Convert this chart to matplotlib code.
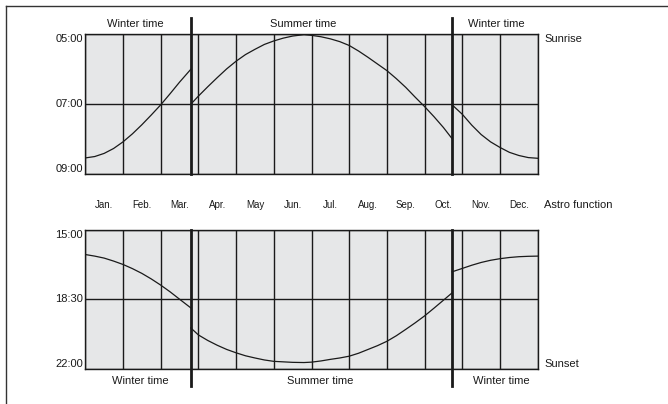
import matplotlib
matplotlib.use('Agg')
import matplotlib.pyplot as plt
from matplotlib.lines import Line2D

plt.rcParams['font.family'] = ['Liberation Sans', 'DejaVu Sans']

# months as 0..12 (start of Jan = 0), switch dates
dst_start = 2.8
dst_end = 9.73
month_labels = ['Jan.', 'Feb.', 'Mar.', 'Apr.', 'May', 'Jun.', 'Jul.', 'Aug.', 'Sep.', 'Oct.', 'Nov.', 'Dec.']

# sunrise in hours (local clock time), three segments
rise_w1_x = [0, 0.25, 0.5, 0.75, 1.0, 1.25, 1.5, 1.75, 2.0, 2.25, 2.5, 2.8]
rise_w1_y = [8.54, 8.50, 8.41, 8.27, 8.08, 7.85, 7.59, 7.31, 7.02, 6.70, 6.37, 6.0]
rise_s_x = [2.8, 3.0, 3.25, 3.5, 3.75, 4.0, 4.25, 4.5, 4.75, 5.0, 5.25, 5.5, 5.8, 6.0, 6.25,
            6.5, 6.75, 7.0, 7.25, 7.5, 7.75, 8.0, 8.25, 8.5, 8.75, 9.0, 9.25, 9.5, 9.73]
rise_s_y = [7.0, 6.77, 6.50, 6.24, 5.99, 5.77, 5.58, 5.43, 5.29, 5.19, 5.11, 5.05, 5.01, 5.03, 5.07,
            5.13, 5.21, 5.32, 5.48, 5.66, 5.85, 6.04, 6.27, 6.52, 6.80, 7.07, 7.36, 7.67, 7.99]
rise_w2_x = [9.73, 10.0, 10.25, 10.5, 10.75, 11.0, 11.25, 11.5, 11.75, 12.0]
rise_w2_y = [7.02, 7.29, 7.60, 7.87, 8.08, 8.24, 8.38, 8.47, 8.53, 8.55]

# sunset in hours
set_w1_x = [0, 0.25, 0.5, 0.75, 1.0, 1.25, 1.5, 1.75, 2.0, 2.25, 2.5, 2.8]
set_w1_y = [16.25, 16.33, 16.43, 16.58, 16.75, 16.96, 17.2, 17.48, 17.79, 18.13, 18.50, 18.94]
set_s_x = [2.8, 3.0, 3.25, 3.5, 3.75, 4.0, 4.25, 4.5, 4.75, 5.0, 5.5, 5.8, 6.0, 6.25,
           6.5, 6.75, 7.0, 7.25, 7.5, 7.75, 8.0, 8.25, 8.5, 8.75, 9.0, 9.25, 9.5, 9.73]
set_s_y = [19.95, 20.30, 20.58, 20.82, 21.03, 21.2, 21.35, 21.46, 21.56, 21.63, 21.68, 21.69, 21.67, 21.61,
           21.53, 21.46, 21.37, 21.22, 21.03, 20.84, 20.62, 20.34, 20.02, 19.69, 19.34, 18.95, 18.55, 18.18]
set_w2_x = [9.73, 10.0, 10.25, 10.5, 10.75, 11.0, 11.25, 11.5, 11.75, 12.0]
set_w2_y = [17.12, 16.95, 16.79, 16.65, 16.54, 16.46, 16.40, 16.36, 16.34, 16.33]

rise_ticks = [5, 7, 9]
rise_tick_labels = ['05:00', '07:00', '09:00']
set_ticks = [15, 18.5, 22]
set_tick_labels = ['15:00', '18:30', '22:00']

W, H = 668, 404
fig = plt.figure(figsize=(W / 100, H / 100), dpi=100)

def px_axes(x0, y0, x1, y1):
    return fig.add_axes([x0 / W, 1 - y1 / H, (x1 - x0) / W, (y1 - y0) / H])

ax1 = px_axes(85.3, 34.3, 537.7, 174.0)
ax2 = px_axes(85.3, 229.7, 537.7, 368.7)

bg = '#e6e7e8'
ink = '#1a1a1a'
fs = 8

def setup(ax, ticks, labels):
    ax.set_facecolor(bg)
    ax.set_xlim(0, 12)
    ax.set_ylim(ticks[-1], ticks[0])
    ax.set_xticks(range(13))
    ax.set_xticklabels([])
    ax.set_yticks(ticks)
    ax.set_yticklabels(labels, fontsize=fs, color=ink)
    ax.tick_params(length=0, pad=1.5)
    for lab, va in zip(ax.get_yticklabels(), ['top', 'center', 'bottom']):
        lab.set_verticalalignment(va)
    ax.grid(True, color=ink, lw=1.0)
    ax.set_axisbelow(True)
    for s in ax.spines.values():
        s.set_color(ink)
        s.set_linewidth(1.0)

setup(ax1, rise_ticks, rise_tick_labels)
setup(ax2, set_ticks, set_tick_labels)

for xs, ys in [(rise_w1_x, rise_w1_y), (rise_s_x, rise_s_y), (rise_w2_x, rise_w2_y)]:
    ax1.plot(xs, ys, color=ink, lw=0.9, zorder=3)
for xs, ys in [(set_w1_x, set_w1_y), (set_s_x, set_s_y), (set_w2_x, set_w2_y)]:
    ax2.plot(xs, ys, color=ink, lw=0.9, zorder=3)

# thick switch-over lines
for x in [dst_start, dst_end]:
    ax1.axvline(x, ymin=0, ymax=1 + 16.6 / 139.7, color=ink, lw=2.0, clip_on=False, zorder=4)
    ax2.axvline(x, ymin=-17.3 / 139.0, ymax=1, color=ink, lw=2.0, clip_on=False, zorder=4)

tr1 = ax1.get_xaxis_transform()
tr2 = ax2.get_xaxis_transform()
for x, t in [(1.32, 'Winter time'), (5.77, 'Summer time'), (10.89, 'Winter time')]:
    ax1.text(x, 1.074, t, transform=tr1, ha='center', va='center', fontsize=fs, color=ink)
for x, t in [(1.45, 'Winter time'), (6.22, 'Summer time'), (11.03, 'Winter time')]:
    ax2.text(x, -0.086, t, transform=tr2, ha='center', va='center', fontsize=fs, color=ink)

for i, m in enumerate(month_labels):
    ax1.text(i + 0.5, -0.222, m, transform=tr1, ha='center', va='center', fontsize=7, color=ink)

ax1.text(12.17, 1.0, 'Sunrise', transform=tr1, ha='left', va='top', fontsize=fs, color=ink)
ax1.text(12.17, -0.222, 'Astro function', transform=tr1, ha='left', va='center', fontsize=fs, color=ink)
ax2.text(12.17, 0.0, 'Sunset', transform=tr2, ha='left', va='bottom', fontsize=fs, color=ink)

# outer frame (top and left edge only)
fig.add_artist(Line2D([5.5 / W, 1], [1 - 6 / H, 1 - 6 / H], color='#333333', lw=1.0))
fig.add_artist(Line2D([5.5 / W, 5.5 / W], [0, 1 - 6 / H], color='#333333', lw=1.0))

fig.savefig('out.png', dpi=100)
